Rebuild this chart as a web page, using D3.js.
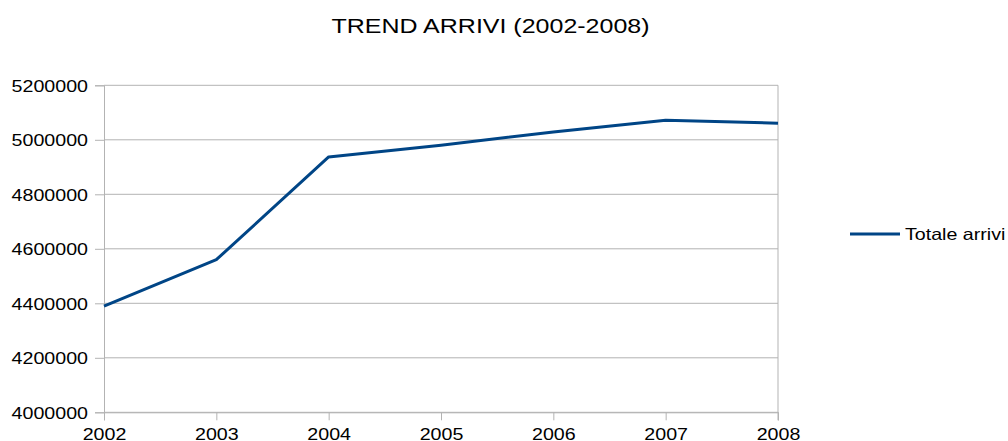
<!DOCTYPE html>
<html>
<head>
<meta charset="utf-8">
<script src="https://d3js.org/d3.v7.min.js"></script>
<style>
    body { margin: 0; background: #fff; }
    svg text { font-family: "Liberation Sans", Arial, sans-serif; fill: #000; }
</style>
</head>
<body>
<svg width="1008" height="441" id="chart"></svg>
<script>
    // data
    var years = [2002, 2003, 2004, 2005, 2006, 2007, 2008];
    var arrivi = [4390000, 4560000, 4937000, 4980000, 5029000, 5072000, 5061000];
    var yTicks = [4000000, 4200000, 4400000, 4600000, 4800000, 5000000, 5200000];
    var title = "TREND ARRIVI (2002-2008)";
    var seriesName = "Totale arrivi";

    var svg = d3.select("#chart");
    var stretch = 1.19; // text in the picture is a bit wide
    var plotLeft = 104, plotRight = 778, plotTop = 85.3, plotBottom = 412.3;

    var x = d3.scalePoint().domain(years).range([plotLeft, plotRight]);
    var y = d3.scaleLinear().domain([4000000, 5200000]).range([plotBottom, plotTop]);

    function wide(sel, px, py) {
        sel.attr("x", 0).attr("y", 0)
            .attr("transform", "translate(" + px + "," + py + ") scale(" + stretch + ",1)");
    }

    // grid
    svg.append("g").selectAll("line")
        .data(yTicks)
        .join("line")
        .attr("x1", plotLeft).attr("x2", plotRight)
        .attr("y1", d => y(d)).attr("y2", d => y(d))
        .attr("stroke", "#b3b3b3").attr("stroke-width", 1);

    // y axis
    var yAxis = svg.append("g")
        .attr("transform", "translate(" + plotLeft + ",0)")
        .call(d3.axisLeft(y).tickValues(yTicks).tickSize(9).tickPadding(7).tickFormat(d3.format("d")));
    yAxis.select(".domain").attr("stroke", "#b3b3b3");
    yAxis.selectAll(".tick line").attr("stroke", "#b3b3b3");
    yAxis.selectAll(".tick text")
        .attr("font-size", 16.5)
        .attr("dy", "0.35em")
        .each(function () { wide(d3.select(this), -16, 0); });

    // x axis
    var xAxis = svg.append("g")
        .attr("transform", "translate(0," + plotBottom + ")")
        .call(d3.axisBottom(x).tickSize(8).tickFormat(d3.format("d")));
    xAxis.select(".domain").attr("stroke", "#b3b3b3");
    xAxis.selectAll(".tick line").attr("stroke", "#b3b3b3");
    xAxis.selectAll(".tick text")
        .attr("font-size", 16.5)
        .attr("dy", null)
        .each(function () { wide(d3.select(this), 0, 28); });
    // right border of the plot
    svg.append("line")
        .attr("x1", plotRight).attr("x2", plotRight)
        .attr("y1", plotTop).attr("y2", plotBottom + 8)
        .attr("stroke", "#b3b3b3");

    // series
    var line = d3.line().x((d, i) => x(years[i])).y(d => y(d));
    svg.append("path")
        .datum(arrivi)
        .attr("d", line)
        .attr("fill", "none")
        .attr("stroke", "#004586")
        .attr("stroke-width", 3)
        .attr("stroke-linejoin", "round");

    // title
    svg.append("text")
        .text(title)
        .attr("font-size", 21)
        .attr("text-anchor", "middle")
        .call(wide, 490.5, 33);

    // legend
    svg.append("line")
        .attr("x1", 850).attr("x2", 900)
        .attr("y1", 234).attr("y2", 234)
        .attr("stroke", "#004586").attr("stroke-width", 3);
    svg.append("text")
        .text(seriesName)
        .attr("font-size", 16.5)
        .call(wide, 905, 240);
</script>
</body>
</html>
